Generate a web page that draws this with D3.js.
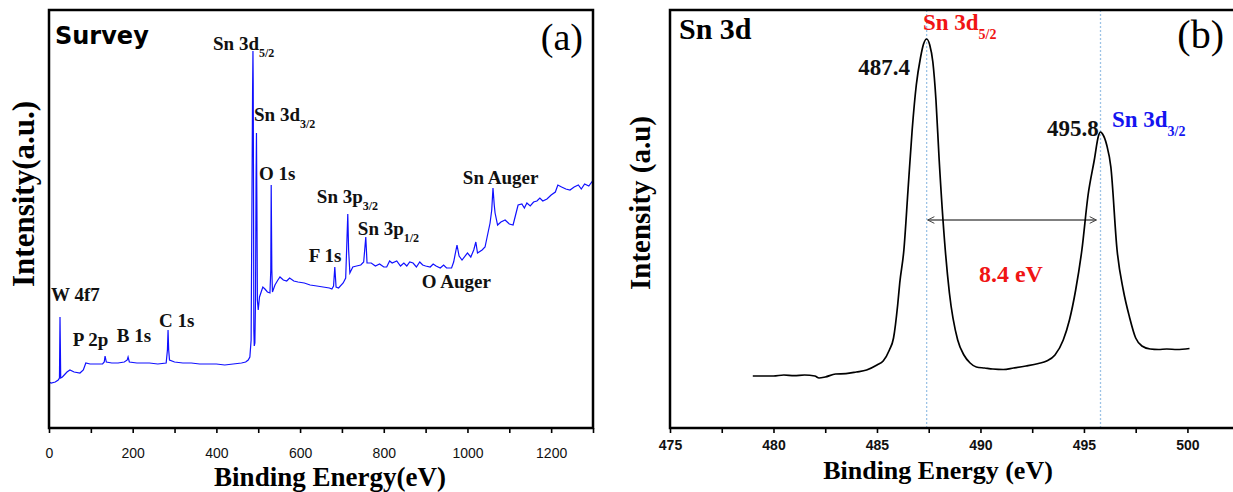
<!DOCTYPE html>
<html>
<head>
<meta charset="utf-8">
<script src="https://cdn.jsdelivr.net/npm/d3@7"></script>
<style>
body { margin: 0; background: #fff; }
</style>
</head>
<body>
<div id="chart"></div>
<script>
// (a) survey spectrum
var surveyBE = [0, 5, 15, 22, 25, 26.3, 28, 32, 43, 50, 60, 74, 82, 88, 98, 110, 128, 132, 134, 137,
    150, 165, 180, 187, 189, 192, 210, 240, 260, 280, 283, 284.5, 286, 288, 300, 320, 340, 360, 380, 400,
    420, 440, 460, 470, 476, 480, 483, 485, 486.5, 487.4, 488, 488.8, 489.5, 490.5, 492, 493.5, 494.8, 495.8, 496.8, 498,
    500, 503, 507, 511, 516, 522, 528, 530, 531, 532.5, 534, 540, 547, 552, 560, 568, 575, 585, 595, 610,
    624, 640, 655, 670, 676, 680, 683, 686, 692, 703, 709, 712, 714, 716, 719, 726, 735, 745, 752, 757,
    760, 770, 780, 790, 800, 807, 814, 820, 831, 840, 848, 855, 862, 870, 878, 886, 893, 900, 911, 918, 925, 935, 943, 950,
    962, 967, 975, 980, 987, 1000, 1008, 1015, 1020, 1024, 1035, 1042, 1047, 1054, 1058, 1061, 1064, 1066, 1072, 1080,
    1090, 1100, 1109, 1115, 1121, 1130, 1136, 1142, 1150, 1158, 1166, 1173, 1180, 1190, 1200, 1210, 1216, 1225, 1235, 1245,
    1255, 1265, 1272, 1280, 1290, 1297, 1300];
var surveyInt = [4600, 4500, 4600, 4800, 5000, 11100, 5000, 5100, 5600, 5800, 5600, 5500, 5800, 6500, 6400, 6400, 6400, 6600, 7200, 6600,
    6500, 6500, 6600, 6800, 7100, 6600, 6500, 6500, 6400, 6500, 7800, 9800, 7800, 6800, 6600, 6500, 6500, 6400, 6400, 6400,
    6300, 6400, 6500, 6600, 6800, 7100, 8800, 22800, 33800, 37700, 34600, 22800, 9800, 8200, 8500, 12800, 24800, 29500, 22800, 12800,
    11800, 13100, 13600, 14100, 13900, 13600, 13500, 15800, 24300, 15800, 13600, 14300, 14800, 15100, 14800, 14700, 15000, 14700, 14600, 14500,
    14300, 14200, 14100, 14000, 13900, 14200, 16100, 14100, 14000, 14500, 15000, 18800, 21400, 17800, 15500, 16100, 16200, 16300, 16600, 19100,
    16500, 16500, 16200, 16400, 16100, 16100, 16700, 16500, 16700, 16200, 16500, 16200, 16600, 16500, 16100, 16600, 16300, 16200, 16100, 16400, 16200, 16000, 16300, 16000,
    16000, 16600, 18300, 17200, 16800, 17500, 17100, 17800, 18600, 17500, 17800, 18100, 19100, 20500, 21800, 24000, 22300, 21500, 20300, 20600,
    20800, 20400, 20300, 21300, 22300, 22400, 22000, 22500, 22200, 22600, 22700, 23000, 22700, 22900, 23300, 23600, 24300, 24100, 23900, 23800,
    24100, 24300, 23900, 24400, 24200, 24600, 24400];

// (b) Sn 3d high resolution spectrum
var sn3dBE = [479.0, 479.5, 480.0, 480.5, 481.0, 481.5, 482.0, 482.2, 482.5, 483.0, 483.5, 484.0, 484.5, 485.0, 485.3, 485.6, 485.8, 486.0, 486.1, 486.3,
    486.5, 486.7, 486.9, 487.1, 487.25, 487.4, 487.55, 487.7, 487.85, 488.0, 488.3, 488.5, 488.9, 489.2, 489.5, 489.8, 490.2, 490.6, 491.1, 491.6,
    492.2, 492.8, 493.2, 493.6, 494.0, 494.3, 494.6, 494.9, 495.2, 495.5, 495.7, 495.8, 495.9, 496.1, 496.3, 496.6, 496.9, 497.2, 497.5, 497.8,
    498.2, 498.6, 499.0, 499.5, 500.1];
var sn3dInt = [2600, 2600, 2600, 2650, 2620, 2650, 2600, 2500, 2550, 2700, 2720, 2800, 2900, 3150, 3350, 3900, 4500, 6150, 7250, 8900,
    11900, 14900, 17150, 18500, 19200, 19450, 19150, 18300, 16400, 13500, 8900, 6750, 4400, 3650, 3250, 3050, 3000, 2950, 2925, 3000,
    3100, 3225, 3350, 3650, 4400, 5400, 6900, 8900, 11650, 13400, 14600, 14800, 14700, 14150, 13050, 8900, 6900, 5550, 4500, 4100,
    3950, 3925, 3950, 3925, 3975];

var surveyTicks = [0, 200, 400, 600, 800, 1000, 1200];
var surveyMinor = [100, 300, 500, 700, 900, 1100, 1300];
var sn3dTicks = [475, 480, 485, 490, 495, 500];
var sn3dMinor = [477.5, 482.5, 487.5, 492.5, 497.5];

var surveyLabels = [
    {text: "Sn 3d", sub: "5/2", be: 392, inten: 37800},
    {text: "Sn 3d", sub: "3/2", be: 490, inten: 30700},
    {text: "O 1s", sub: "", be: 502, inten: 24800},
    {text: "Sn 3p", sub: "3/2", be: 640, inten: 22500},
    {text: "Sn 3p", sub: "1/2", be: 738, inten: 19300},
    {text: "F 1s", sub: "", be: 621, inten: 16600},
    {text: "O Auger", sub: "", be: 891, inten: 14000},
    {text: "Sn Auger", sub: "", be: 989, inten: 24400},
    {text: "W 4f7", sub: "", be: 5, inten: 12700},
    {text: "P 2p", sub: "", be: 57, inten: 8200},
    {text: "B 1s", sub: "", be: 162, inten: 8600},
    {text: "C 1s", sub: "", be: 263, inten: 10100}
];
var peakPositions = [487.4, 495.8];

var serif = "'Liberation Serif', 'Times New Roman', serif";
var sans = "'Liberation Sans', Arial, sans-serif";

var svg = d3.select("#chart").append("svg")
    .attr("width", 1233)
    .attr("height", 492);

function addLabel(g, x, y, main, sub, size, subSize, color, anchor) {
    var t = g.append("text")
        .attr("x", x)
        .attr("y", y)
        .attr("font-family", serif)
        .attr("font-weight", "bold")
        .attr("font-size", size)
        .attr("fill", color)
        .attr("text-anchor", anchor || "start");
    t.append("tspan").text(main);
    if (sub) {
        t.append("tspan")
            .attr("dy", size * 0.38)
            .attr("font-size", subSize)
            .text(sub);
    }
    return t;
}

function styleAxis(ax, fontSize, weight, labelY) {
    ax.select(".domain").remove();
    ax.selectAll(".tick line").attr("stroke", "#000").attr("stroke-width", 1.6);
    ax.selectAll(".tick text")
        .attr("font-family", sans)
        .attr("font-size", fontSize)
        .attr("font-weight", weight)
        .attr("fill", "#111")
        .attr("y", labelY)
        .attr("dy", 0);
}

// ---------- panel (a) ----------
var xA = d3.scaleLinear().domain([0, 1300]).range([49, 593]);
var yA = d3.scaleLinear().domain([0, 41800]).range([428, 10]);
var gA = svg.append("g");

var axA = gA.append("g").attr("transform", "translate(0,428)")
    .call(d3.axisBottom(xA).tickValues(surveyTicks).tickSize(5).tickSizeOuter(0).tickFormat(d3.format("d")));
styleAxis(axA, 14, "normal", 30);
var axAm = gA.append("g").attr("transform", "translate(0,428)")
    .call(d3.axisBottom(xA).tickValues(surveyMinor).tickSize(5).tickSizeOuter(0).tickFormat(""));
styleAxis(axAm, 14, "normal", 30);

var surveyLine = d3.line()
    .x(function (d, i) { return xA(surveyBE[i]); })
    .y(function (d) { return yA(d); });

gA.append("path")
    .datum(surveyInt)
    .attr("fill", "none")
    .attr("stroke", "#1010ff")
    .attr("stroke-width", 1.2)
    .attr("d", surveyLine);

gA.append("rect")
    .attr("x", 49).attr("y", 10)
    .attr("width", 544).attr("height", 418)
    .attr("fill", "none")
    .attr("stroke", "#000")
    .attr("stroke-width", 2.5);

surveyLabels.forEach(function (l) {
    addLabel(gA, xA(l.be), yA(l.inten), l.text, l.sub, 19, 12, "#111");
});

gA.append("text")
    .attr("x", 55).attr("y", 44)
    .attr("font-family", "'DejaVu Sans', Verdana, sans-serif")
    .attr("font-weight", "bold")
    .attr("font-size", 24)
    .text("Survey");

gA.append("text")
    .attr("x", 583).attr("y", 50)
    .attr("text-anchor", "end")
    .attr("font-family", serif)
    .attr("font-size", 38)
    .text("(a)");

gA.append("text")
    .attr("x", 330).attr("y", 486)
    .attr("text-anchor", "middle")
    .attr("font-family", serif)
    .attr("font-weight", "bold")
    .attr("font-size", 27)
    .text("Binding Energy(eV)");

gA.append("text")
    .attr("transform", "translate(34,194) rotate(-90)")
    .attr("text-anchor", "middle")
    .attr("font-family", serif)
    .attr("font-weight", "bold")
    .attr("font-size", 31)
    .text("Intensity(a.u.)");

// ---------- panel (b) ----------
var xB = d3.scaleLinear().domain([475, 502.25]).range([670, 1234]);
var yB = d3.scaleLinear().domain([0, 20900]).range([428, 10]);
var gB = svg.append("g");

var axB = gB.append("g").attr("transform", "translate(0,428)")
    .call(d3.axisBottom(xB).tickValues(sn3dTicks).tickSize(5).tickSizeOuter(0).tickFormat(d3.format("d")));
styleAxis(axB, 14, "bold", 22);
var axBm = gB.append("g").attr("transform", "translate(0,428)")
    .call(d3.axisBottom(xB).tickValues(sn3dMinor).tickSize(5).tickSizeOuter(0).tickFormat(""));
styleAxis(axBm, 14, "bold", 22);

// dotted guides at the two peak maxima
gB.selectAll(".guide")
    .data(peakPositions)
    .enter().append("line")
    .attr("class", "guide")
    .attr("x1", function (d) { return xB(d); })
    .attr("x2", function (d) { return xB(d); })
    .attr("y1", 10).attr("y2", 428)
    .attr("stroke", "#9cc3e6")
    .attr("stroke-width", 1.3)
    .attr("stroke-dasharray", "2,2");

var sn3dLine = d3.line()
    .x(function (d, i) { return xB(sn3dBE[i]); })
    .y(function (d) { return yB(d); })
    .curve(d3.curveMonotoneX);

gB.append("path")
    .datum(sn3dInt)
    .attr("fill", "none")
    .attr("stroke", "#000")
    .attr("stroke-width", 1.7)
    .attr("d", sn3dLine);

// double arrow for the splitting
var defs = svg.append("defs");
defs.append("marker")
    .attr("id", "head")
    .attr("viewBox", "-10 -6 12 12")
    .attr("refX", 0).attr("refY", 0)
    .attr("markerWidth", 10).attr("markerHeight", 10)
    .attr("markerUnits", "userSpaceOnUse")
    .attr("orient", "auto-start-reverse")
    .append("path")
    .attr("d", "M-8,-4 L0,0 L-8,4")
    .attr("fill", "none")
    .attr("stroke", "#444")
    .attr("stroke-width", 1.2);

gB.append("line")
    .attr("x1", xB(487.45)).attr("x2", xB(495.6))
    .attr("y1", yB(10400)).attr("y2", yB(10400))
    .attr("stroke", "#000")
    .attr("stroke-width", 1)
    .attr("marker-start", "url(#head)")
    .attr("marker-end", "url(#head)");

gB.append("rect")
    .attr("x", 670).attr("y", 10)
    .attr("width", 620).attr("height", 418)
    .attr("fill", "none")
    .attr("stroke", "#000")
    .attr("stroke-width", 2.5);

addLabel(gB, xB(486.6), yB(17650), "487.4", "", 23, 12, "#111", "end");
addLabel(gB, xB(495.72), yB(14600), "495.8", "", 23, 12, "#111", "end");
addLabel(gB, xB(487.22), yB(19900), "Sn 3d", "5/2", 23, 14, "#f01414");
addLabel(gB, xB(496.35), yB(15050), "Sn 3d", "3/2", 23, 14, "#1414f0");
addLabel(gB, xB(491.47), yB(7300), "8.4 eV", "", 24, 12, "#f01414", "middle");

gB.append("text")
    .attr("x", 679).attr("y", 39)
    .attr("font-family", serif)
    .attr("font-weight", "bold")
    .attr("font-size", 30)
    .text("Sn 3d");

gB.append("text")
    .attr("x", 1224).attr("y", 48)
    .attr("text-anchor", "end")
    .attr("font-family", serif)
    .attr("font-size", 40)
    .text("(b)");

gB.append("text")
    .attr("x", 938).attr("y", 479)
    .attr("text-anchor", "middle")
    .attr("font-family", serif)
    .attr("font-weight", "bold")
    .attr("font-size", 26)
    .text("Binding Energy (eV)");

gB.append("text")
    .attr("transform", "translate(650,203) rotate(-90)")
    .attr("text-anchor", "middle")
    .attr("font-family", serif)
    .attr("font-weight", "bold")
    .attr("font-size", 29)
    .text("Intensity (a.u)");
</script>
</body>
</html>
